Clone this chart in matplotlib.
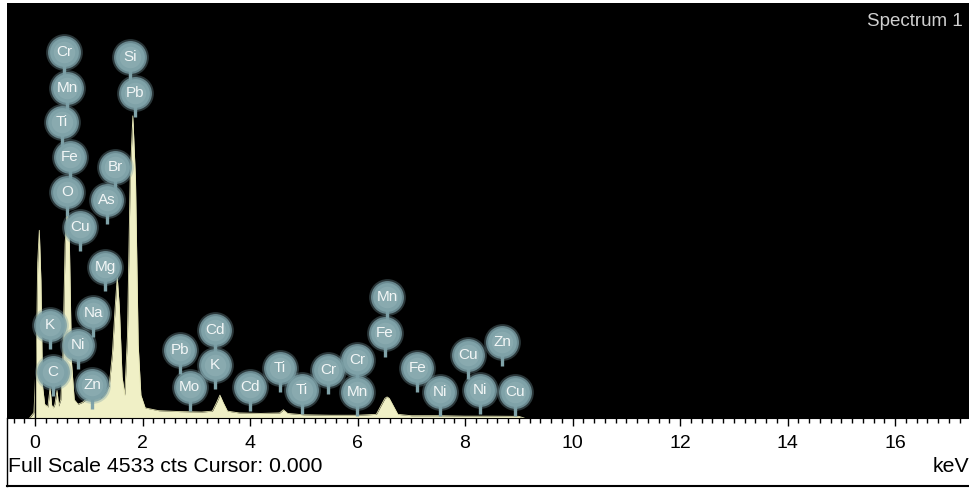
import matplotlib
matplotlib.use("Agg")
import matplotlib.pyplot as plt
from matplotlib.lines import Line2D
import numpy as np

plt.rcParams["font.family"] = ["Liberation Sans", "DejaVu Sans"]

# EDS spectrum outline: energy (keV) and counts at each vertex
spec_energy = [-0.10, -0.02, 0.02, 0.05, 0.08, 0.11, 0.14, 0.18, 0.24, 0.28,
               0.31, 0.34, 0.37, 0.41, 0.44, 0.48, 0.52, 0.56, 0.60, 0.64,
               0.68, 0.73, 0.80, 0.88, 0.95, 1.02, 1.08, 1.15, 1.22, 1.30,
               1.38, 1.44, 1.49, 1.53, 1.57, 1.62, 1.67, 1.72, 1.77, 1.82,
               1.87, 1.92, 1.97, 2.05, 2.30, 2.70, 3.10, 3.30, 3.38, 3.44,
               3.50, 3.58, 3.80, 4.20, 4.55, 4.62, 4.70, 5.00, 5.50, 6.00,
               6.35, 6.45, 6.51, 6.55, 6.59, 6.65, 6.75, 7.00, 7.50, 8.00,
               8.50, 9.00, 9.10]
spec_counts = [0, 60, 600, 1700, 2050, 1500, 350, 150, 120, 330,
               140, 110, 150, 300, 130, 200, 700, 1900, 2300, 1900,
               600, 200, 150, 170, 200, 240, 200, 250, 220, 280,
               350, 700, 1200, 1540, 1200, 450, 250, 900, 2600, 3300,
               2600, 800, 250, 110, 80, 70, 65, 75, 170, 250,
               170, 75, 55, 50, 55, 90, 50, 35, 30, 30,
               40, 150, 215, 230, 215, 150, 40, 25, 25, 20,
               20, 18, 0]

# Element markers: symbol, energy (keV), height (counts)
label_elements = ["Cr", "Mn", "Ti", "Fe", "O", "Cu", "Si", "Pb", "Br", "As",
                  "Mg", "Na", "K", "Ni", "C", "Zn", "Pb", "Cd", "K", "Mo",
                  "Cd", "Ti", "Ti", "Cr", "Cr", "Mn", "Mn", "Fe", "Fe", "Ni",
                  "Cu", "Zn", "Ni", "Cu"]
label_energy = [0.54, 0.60, 0.50, 0.65, 0.60, 0.84, 1.77, 1.86, 1.49, 1.34,
                1.30, 1.08, 0.28, 0.80, 0.33, 1.06, 2.70, 3.35, 3.35, 2.88,
                4.00, 4.56, 4.97, 5.45, 5.99, 5.99, 6.55, 6.51, 7.11, 7.53,
                8.06, 8.69, 8.28, 8.93]
label_counts = [3998, 3605, 3233, 2851, 2469, 2086, 3943, 3550, 2742, 2381,
                1649, 1147, 1016, 797, 502, 360, 743, 961, 579, 339,
                339, 546, 306, 524, 634, 284, 1322, 928, 546, 284,
                688, 830, 306, 284]

full_scale = 4533
cursor_kev = 0.0
major_ticks = list(range(0, 17, 2))

fig = plt.figure(figsize=(9.7, 4.88), dpi=100, facecolor="white")
W, H = 970, 488
ax = fig.add_axes([7 / W, (H - 418) / H, (W - 7) / W, (418 - 3) / H])
ax.set_facecolor("black")
ax.set_xlim(-0.521, 17.395)
ax.set_ylim(0, full_scale)

ax.fill_between(spec_energy, 0, spec_counts, color="#f0f0c6", lw=0, zorder=1)
ax.plot(spec_energy, spec_counts, color="#e4e4b2", lw=0.6, zorder=1)
ax.axvline(cursor_kev, color="black", lw=1.0, zorder=2)

le = np.array(label_energy)
lc = np.array(label_counts)
ax.vlines(le, lc - 260, lc - 120, color="#80a3a9", lw=2.4, zorder=3)
ax.scatter(le, lc, s=700, color="#7a9da4", alpha=0.35, lw=0, zorder=4)
ax.scatter(le, lc, s=560, color="#7a9ea5", alpha=0.8, lw=0, zorder=4)
ax.scatter(le, lc, s=430, color="#7fa2a8", lw=0, zorder=4)
ax.scatter(le, lc, s=240, color="#92b1b6", alpha=0.55, lw=0, zorder=4)
for name, x, y in zip(label_elements, label_energy, label_counts):
    ax.text(x, y, name, color="#f2f6f6", fontsize=11, ha="center",
            va="center", zorder=5)

ax.text(0.9925, 0.955, "Spectrum 1", transform=ax.transAxes, color="#d0d0d0",
        fontsize=13.5, ha="right", va="center")

ax.set_yticks([])
ax.set_xticks(major_ticks)
ax.set_xticklabels([str(t) for t in major_ticks])
ax.set_xticks(np.arange(-0.4, 17.4, 0.2), minor=True)
ax.tick_params(axis="x", which="major", direction="out", length=6, width=1,
               color="black", labelsize=14, pad=6)
ax.tick_params(axis="x", which="minor", direction="out", length=3.5, width=1,
               color="black")
for s in ["top", "left", "right"]:
    ax.spines[s].set_visible(False)
ax.spines["bottom"].set_color("black")

fig.text(8 / W, 1 - 467 / H, "Full Scale 4533 cts Cursor: 0.000", fontsize=15.3,
         ha="left", va="center")
fig.text(969 / W, 1 - 467 / H, "keV", fontsize=15.3, ha="right", va="center")

fig.add_artist(Line2D([7 / W, 7 / W], [1 - 418 / H, 1 - 486 / H],
                      color="black", lw=1))
fig.add_artist(Line2D([7 / W, 1], [1 - 486 / H, 1 - 486 / H],
                      color="black", lw=1.5))

fig.savefig("out.png", dpi=100, facecolor="white")
